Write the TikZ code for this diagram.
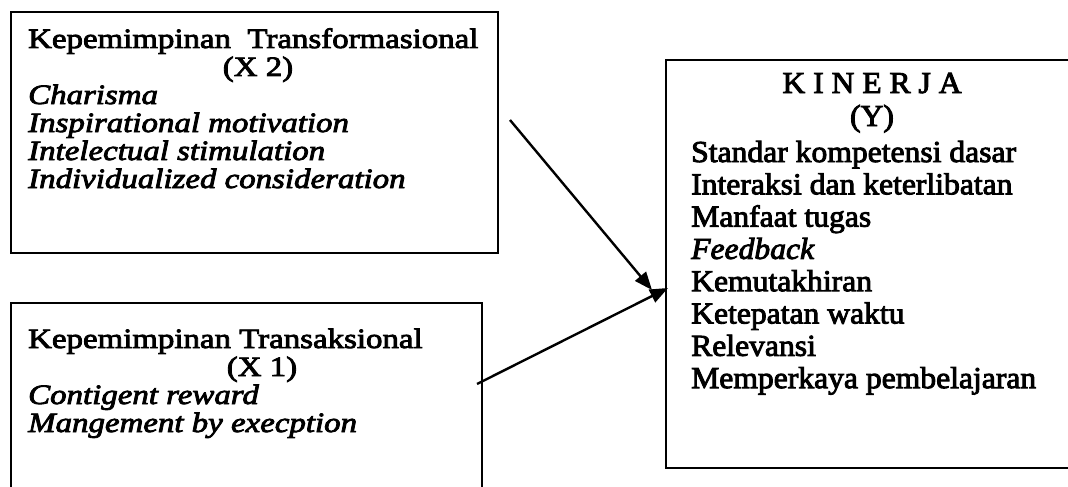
\documentclass[tikz,border=0pt]{standalone}
\usepackage{fontspec}
\setmainfont{Liberation Serif}[FakeStretch=1.175,FakeBold=3]
\newfontfamily\rfont{Liberation Serif}[FakeStretch=1.04,FakeBold=3]
\usetikzlibrary{arrows.meta}
\begin{document}
\begin{tikzpicture}[x=1pt,y=-1pt,
  box/.style={draw,line width=2pt,inner sep=0pt,anchor=north west},
  ltxt/.style={anchor=base west,inner sep=0pt,font=\fontsize{28}{28}\selectfont},
  lctr/.style={anchor=base,inner sep=0pt,font=\fontsize{28}{28}\selectfont},
  rtxt/.style={anchor=base west,inner sep=0pt,font=\rfont\fontsize{30.4}{32}\selectfont},
  rctr/.style={anchor=base,inner sep=0pt,font=\rfont\fontsize{30.4}{32}\selectfont},
  link/.style={line width=2.4pt,-{Triangle[length=18pt,width=14pt]}}]
\useasboundingbox (0,0) rectangle (1068,487);
% boxes
\node[box,minimum width=487pt,minimum height=241pt] (X2) at (10,11) {};
\node[box,minimum width=471pt,minimum height=200pt] (X1) at (10,302) {};
\node[box,minimum width=420pt,minimum height=408pt] (Y) at (665,59) {};
% top box text
\node[ltxt] (t1) at (28,48) {Kepemimpinan\ \ Transformasional};
\node[lctr] (t2) at (258,76) {(X 2)};
\node[ltxt] (t3) at (28,104) {\itshape Charisma};
\node[ltxt] (t4) at (28,132) {\itshape Inspirational motivation};
\node[ltxt] (t5) at (28,160) {\itshape Intelectual stimulation};
\node[ltxt] (t6) at (28,188) {\itshape Individualized consideration};
% bottom box text
\node[ltxt] (b1) at (28,348) {Kepemimpinan Transaksional};
\node[lctr] (b2) at (262,376) {(X 1)};
\node[ltxt] (b3) at (28,404) {\itshape Contigent reward};
\node[ltxt] (b4) at (28,432) {\itshape Mangement by execption};
% right box text
\node[rctr] (r0) at (872,93) {K I N E R J A};
\node[rctr] (r1) at (872,126) {(Y)};
\node[rtxt] (r2) at (691,162) {Standar kompetensi dasar};
\node[rtxt] (r3) at (691,194.3) {Interaksi dan keterlibatan};
\node[rtxt] (r4) at (691,226.6) {Manfaat tugas};
\node[rtxt] (r5) at (691,258.9) {\itshape Feedback};
\node[rtxt] (r6) at (691,291.2) {Kemutakhiran};
\node[rtxt] (r7) at (691,323.5) {Ketepatan waktu};
\node[rtxt] (r8) at (691,355.8) {Relevansi};
\node[rtxt] (r9) at (691,388.1) {Memperkaya pembelajaran};
% connectors
\coordinate (s2) at (510,120);
\coordinate (e2) at (652,290);
\coordinate (s1) at (477,384);
\coordinate (e1) at (668,288);
\draw[link] (s2) -- (e2);
\draw[link] (s1) -- (e1);
\end{tikzpicture}
\end{document}
